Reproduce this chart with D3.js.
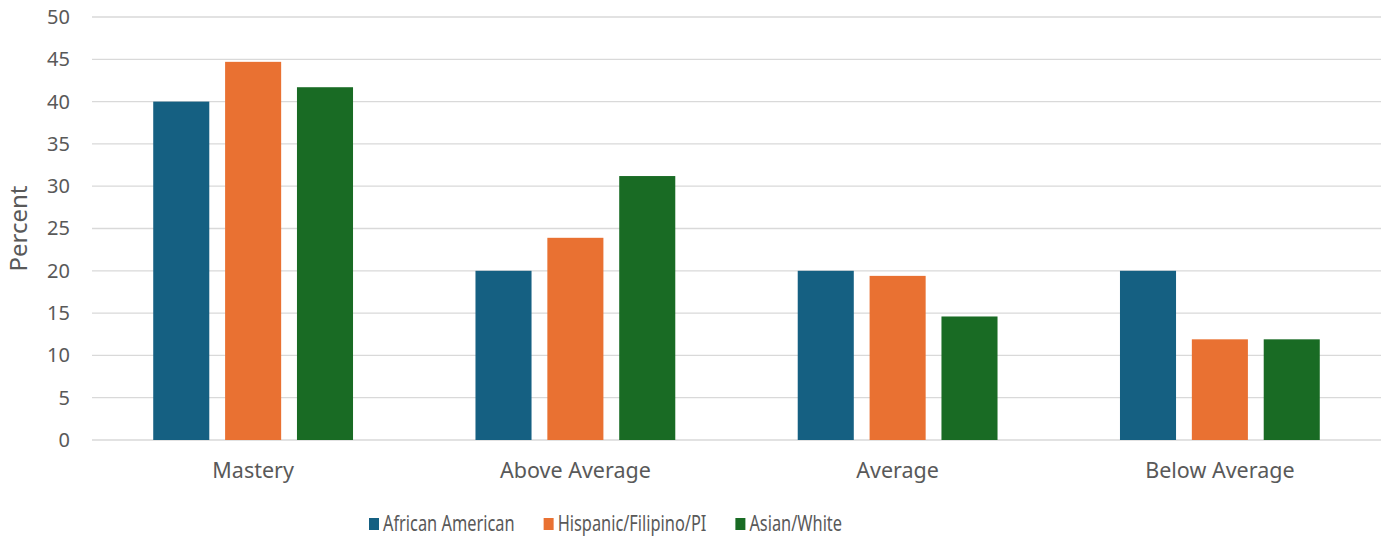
<!DOCTYPE html>
<html>
<head>
<meta charset="utf-8">
<script src="https://cdn.jsdelivr.net/npm/d3@7"></script>
<style>
  body { margin: 0; background: #fff; }
  text { font-family: "Noto Sans", "Open Sans", sans-serif; fill: #595959; }
</style>
</head>
<body>
<div id="chart"></div>
<script>
/********************************************************/
// Data
const categories = ["Mastery", "Above Average", "Average", "Below Average"];
const seriesNames = ["African American", "Hispanic/Filipino/PI", "Asian/White"];
const africanAmerican = [40, 20, 20, 20];
const hispanicFilipinoPI = [44.7, 23.9, 19.4, 11.9];
const asianWhite = [41.7, 31.2, 14.6, 11.9];
const yTicks = [0, 5, 10, 15, 20, 25, 30, 35, 40, 45, 50];
/********************************************************/
const colors = ["#156082", "#E97132", "#196B24"];
const seriesValues = [africanAmerican, hispanicFilipinoPI, asianWhite];

const svgWidth = 1390;
const svgHeight = 538;
const margin = { top: 17, right: 9, bottom: 98, left: 92 };
const chartWidth = svgWidth - margin.left - margin.right;
const chartHeight = svgHeight - margin.top - margin.bottom;

const svg = d3.select("#chart").append("svg")
  .attr("width", svgWidth).attr("height", svgHeight);

const chartGroup = svg.append("g")
  .attr("transform", `translate(${margin.left}, ${margin.top})`);

const yScale = d3.scaleLinear().domain([0, 50]).range([chartHeight, 0]);

const xScale = d3.scaleBand().domain(categories).range([0, chartWidth]).paddingInner(0.38).paddingOuter(0.19);

const xInner = d3.scaleBand().domain(seriesNames).range([0, xScale.bandwidth()]).paddingInner(0.22);

// gridlines
chartGroup.append("g")
  .selectAll("line")
  .data(yTicks)
  .enter()
  .append("line")
  .attr("x1", 0)
  .attr("x2", chartWidth)
  .attr("y1", d => yScale(d))
  .attr("y2", d => yScale(d))
  .attr("stroke", "#d9d9d9")
  .attr("stroke-width", 1.3);

// y axis labels
const leftAxis = d3.axisLeft(yScale).tickValues(yTicks).tickSize(0).tickPadding(22);
const yAxisG = chartGroup.append("g").call(leftAxis);
yAxisG.select(".domain").remove();
yAxisG.selectAll("text").attr("font-size", "20px").attr("fill", "#595959")
  .style("font-family", '"Noto Sans", sans-serif');

// bars
const rows = categories.map((c, i) => ({ cat: c, vals: seriesValues.map((s, j) => ({ name: seriesNames[j], v: s[i], color: colors[j] })) }));

chartGroup.selectAll(".grp")
  .data(rows)
  .enter()
  .append("g")
  .attr("class", "grp")
  .attr("transform", d => `translate(${xScale(d.cat)}, 0)`)
  .selectAll("rect")
  .data(d => d.vals)
  .enter()
  .append("rect")
  .attr("x", d => xInner(d.name))
  .attr("width", xInner.bandwidth())
  .attr("y", d => yScale(d.v))
  .attr("height", d => yScale(0) - yScale(d.v))
  .attr("fill", d => d.color);

// x axis labels
const bottomAxis = d3.axisBottom(xScale).tickSize(0).tickPadding(23);
const xAxisG = chartGroup.append("g").attr("transform", `translate(0, ${chartHeight})`).call(bottomAxis);
xAxisG.select(".domain").remove();
xAxisG.selectAll("text").attr("font-size", "21.5px").attr("fill", "#595959")
  .style("font-family", '"Noto Sans", sans-serif');

// y axis title
svg.append("text")
  .attr("transform", `translate(27, ${margin.top + chartHeight / 2}) rotate(-90)`)
  .attr("text-anchor", "middle")
  .attr("font-size", "24px")
  .text("Percent");

// legend (text looks horizontally squeezed in the reference, block sits left of centre)
const squeeze = 0.745;
const legend = svg.append("g").attr("transform", "translate(0, 523)");
const items = legend.selectAll("g")
  .data(seriesNames)
  .enter()
  .append("g");
items.append("rect")
  .attr("width", 10).attr("height", 12).attr("y", -5)
  .attr("fill", (d, i) => colors[i]);
items.append("text")
  .attr("transform", `translate(14, 0) scale(${squeeze}, 1)`)
  .attr("dy", "0.35em")
  .attr("font-size", "22px")
  .text(d => d);
let widths = [];
items.each(function () { widths.push(this.getBBox().width); });
const gap = 29;
let cx = 369;
items.attr("transform", (d, i) => {
  const t = `translate(${cx}, 0)`;
  cx += widths[i] + gap;
  return t;
});
</script>
</body>
</html>
